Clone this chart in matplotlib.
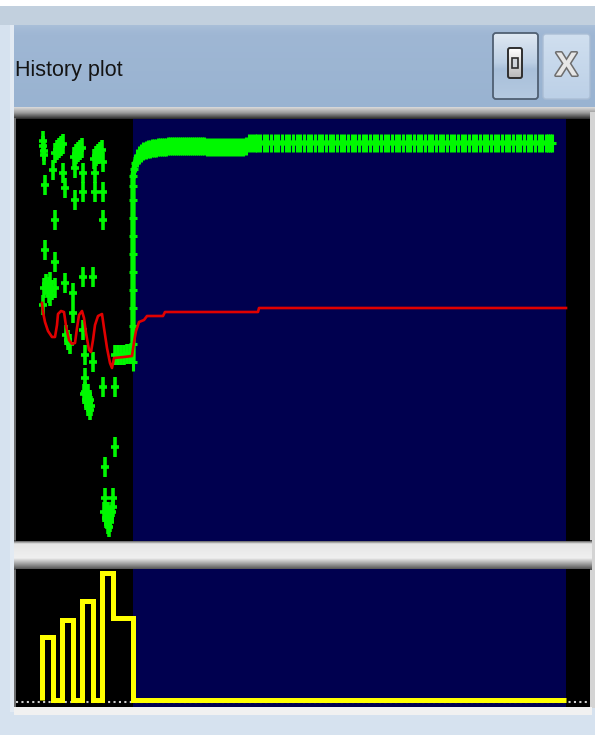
import matplotlib
matplotlib.use("Agg")
import matplotlib.pyplot as plt
import matplotlib.colors as mcolors
import matplotlib.patheffects as pe
import numpy as np
from matplotlib.path import Path
from matplotlib.patches import Rectangle, FancyBboxPatch

# ---------------- data (axis units = screen units of the plot) ----------
title_text = "History plot"
close_text = "X"

# start of the converged run (black -> blue background) and end of the run
phase_split = 132.5
phase_end = 566

# scattered exploration evaluations (green +)
explore_x = [43, 43, 44, 44, 55, 57, 59, 61, 63, 74, 76, 78, 80, 82, 94, 96, 98, 100, 102,
             53, 63, 75, 83, 95, 103, 45, 65, 75, 83, 95, 103, 55, 103, 45, 55, 65, 73, 83, 93,
             46, 49, 52, 49, 44, 55, 50, 50, 43, 73, 83, 66, 68, 70, 85, 93, 85, 103, 115,
             85, 87, 89, 91, 84, 88, 86, 90, 88, 90,
             115, 105, 105, 113, 113,
             106, 108, 110, 109, 104, 108, 112, 106, 110, 108,
             115, 118, 121, 124, 127, 130]
explore_y = [141, 146, 151, 155, 153, 150, 148, 146, 144, 157, 154, 152, 150, 148, 159, 156, 154, 152, 150,
             170, 173, 168, 173, 173, 162, 185, 188, 200, 192, 192, 192, 220, 220, 250, 262, 283, 293, 277, 277,
             284, 287, 290, 293, 288, 288, 282, 296, 305, 313, 330, 335, 340, 344, 355, 362, 378, 387, 387,
             392, 397, 402, 406, 394, 394, 400, 400, 406, 410,
             447, 467, 498, 498, 507,
             512, 517, 522, 527, 512, 512, 512, 518, 518, 524,
             355, 355, 355, 355, 354, 354]

# converging run (green +)
converge_x = [133, 133, 133, 133, 133, 133, 133, 133, 133, 133, 133, 133,
              134, 135, 137, 139, 141, 143,
              146, 148, 150, 152, 154, 156, 158, 160, 162, 164, 166, 168, 170, 172, 174,
              176, 178, 180, 182, 184, 186, 188, 190, 192, 194, 196, 198, 200, 202, 204,
              207, 210, 213, 216, 219, 222, 225, 228, 231, 234, 237, 240, 243, 246,
              249, 252, 255, 257,
              260, 264, 267, 271, 275, 278, 282, 286, 289, 293, 297, 300, 304, 308, 311,
              315, 319, 322, 326, 330, 333, 337, 341, 344, 348, 352, 355, 359, 363, 366,
              370, 374, 377, 381, 385, 388, 392, 396, 399, 403, 407, 410, 414, 418, 421,
              425, 429, 432, 436, 440, 443, 447, 451, 454, 458, 462, 465, 469, 473, 476,
              480, 484, 487, 491, 495, 498, 502, 506, 509, 513, 517, 520, 524, 528, 531,
              535, 539, 542, 546, 548, 550, 552]
converge_y = [362, 344, 326, 308, 290, 272, 254, 236, 218, 200, 186, 176,
              169, 163, 158, 155, 153, 151,
              150, 149, 149, 148, 148, 148, 147, 147, 147, 147, 147, 146, 146, 146, 146,
              146, 146, 146, 146, 146, 146, 146, 146, 146, 146, 146, 146, 146, 146, 146,
              147, 147, 147, 147, 147, 147, 147, 147, 147, 147, 147, 147, 147, 146,
              143, 143, 143, 143,
              143, 143, 143, 143, 143, 143, 143, 143, 143, 143, 143, 143, 143, 143, 143,
              143, 143, 143, 143, 143, 143, 143, 143, 143, 143, 143, 143, 143, 143, 143,
              143, 143, 143, 143, 143, 143, 143, 143, 143, 143, 143, 143, 143, 143, 143,
              143, 143, 143, 143, 143, 143, 143, 143, 143, 143, 143, 143, 143, 143, 143,
              143, 143, 143, 143, 143, 143, 143, 143, 143, 143, 143, 143, 143, 143, 143,
              143, 143, 143, 143, 143, 143, 143]

# red running-average line
red_x = [42, 43, 45, 48, 52, 55, 57, 58, 61, 64, 66, 69, 72, 75, 77, 79, 82, 84, 86, 89, 91,
         93, 95, 98, 102, 104, 107, 110, 112, 114, 124, 132, 134, 136, 139, 144, 147, 163, 165,
         258, 259, 566]
red_y = [303, 312, 322, 331, 337, 337, 325, 314, 311, 312, 326, 340, 344, 343, 328, 315, 311, 318, 333, 350, 352,
         340, 325, 316, 314, 328, 348, 363, 368, 358, 357, 356, 342, 331, 322, 320, 316, 316, 312,
         312, 308, 308]

# yellow step trace (lower panel)
step_edges = [42, 53, 62, 73, 82, 93, 102, 113, 133, 566]
step_levels = [637, 700, 620, 700, 601, 700, 573, 618, 700]
baseline_level = 700
dotted_level = 702

# ---------------- styling ----------------
W, H = 595, 735
BLUE = "#00004f"
GREEN = "#00f800"
RED = "#e00000"
YELLOW = "#ffff00"
UI_FONT = ["Liberation Sans", "DejaVu Sans"]

fig = plt.figure(figsize=(W / 100, H / 100), dpi=100)
fig.patch.set_facecolor("#d6e2ef")


def px_axes(l, t, r, b):
    return fig.add_axes([l / W, 1 - b / H, (r - l) / W, (b - t) / H])


chrome = px_axes(0, 0, W, H)
chrome.set_xlim(0, W)
chrome.set_ylim(H, 0)
chrome.axis("off")


def rect(x0, y0, x1, y1, color, z=1):
    chrome.add_patch(Rectangle((x0, y0), x1 - x0, y1 - y0, facecolor=color,
                               edgecolor="none", zorder=z))


def vgrad(x0, y0, x1, y1, stops, z=2, clip=None):
    n = 64
    pos = np.linspace(0, 1, n)
    rgb = np.array([mcolors.to_rgb(c) for _, c in stops])
    p = [s for s, _ in stops]
    arr = np.stack([np.interp(pos, p, rgb[:, k]) for k in range(3)], axis=-1)[:, None, :]
    im = chrome.imshow(arr, extent=[x0, x1, y1, y0], aspect="auto", origin="upper",
                       interpolation="bilinear", zorder=z)
    if clip is not None:
        im.set_clip_path(clip)
    return im


# window chrome
rect(0, 0, W, 6, "white")
rect(0, 6, W, 25, "#c2d0de")
rect(10, 25, 14, 712, "#e2eaf3")
vgrad(14, 25, W, 108, [(0, "#a8bed8"), (0.1, "#9fb7d4"), (1, "#99b3d1")])
vgrad(14, 107, W, 120, [(0, "#dcdcdc"), (0.45, "#9a9a9a"), (1, "#151515")], z=3)
rect(14, 118, 16, 708, "#6e6e6e", z=3)
rect(590, 112, W, 708, "#d4d4d4", z=3)
vgrad(14, 540, 592, 570, [(0, "#3a3a3a"), (0.12, "#e6e6e6"), (0.6, "#f0f0f0"), (1, "#4a4a4a")], z=3)
rect(14, 707, 592, 715, "#f1f1f1", z=3)

chrome.text(15, 76, title_text, fontsize=15.5, family=UI_FONT, color="#141414",
            va="baseline", ha="left", zorder=5)

# restore button
b1 = FancyBboxPatch((493, 33), 45, 66, boxstyle="round,pad=0,rounding_size=3",
                    facecolor="none", edgecolor="#4f5f72", lw=1.3, zorder=6)
chrome.add_patch(b1)
vgrad(493, 33, 538, 99, [(0, "#dfe8f2"), (0.45, "#bccfe4"), (0.55, "#a9c0da"), (1, "#b4c9e0")],
      z=5, clip=b1)
icon = FancyBboxPatch((508, 48), 14, 30, boxstyle="round,pad=0,rounding_size=2",
                      facecolor="none", edgecolor="#2e2e2e", lw=1.4, zorder=8)
chrome.add_patch(icon)
vgrad(508, 48, 522, 78, [(0, "#ffffff"), (1, "#b8b8b8")], z=7, clip=icon)
chrome.add_patch(Rectangle((512, 58), 6, 10, facecolor="#cfd4da", edgecolor="#2e2e2e",
                           lw=1.2, zorder=9))

# close button
b2 = FancyBboxPatch((543, 34), 47, 65, boxstyle="round,pad=0,rounding_size=3",
                    facecolor="none", edgecolor="#aabdd4", lw=1.0, zorder=6)
chrome.add_patch(b2)
vgrad(543, 34, 590, 99, [(0, "#d0dfef"), (1, "#bcd0e7")], z=5, clip=b2)
chrome.text(566.5, 67, close_text, fontsize=24, family=UI_FONT, color="#e6e6e6",
            ha="center", va="center", zorder=9, fontweight="bold",
            path_effects=[pe.withStroke(linewidth=2.2, foreground="#6d6d6d")])

chrome.set_xlim(0, W)
chrome.set_ylim(H, 0)

# marker: tall thin plus
plus = Path([(0, -1), (0, 1), (-0.45, 0), (0.45, 0)],
            [Path.MOVETO, Path.LINETO, Path.MOVETO, Path.LINETO])


def plot_panel(t, b):
    a = px_axes(16, t, 590, b)
    a.set_xlim(16, 590)
    a.set_ylim(b, t)
    a.set_facecolor("black")
    a.axvspan(phase_split, phase_end, color=BLUE, lw=0, zorder=0)
    a.set_xticks([])
    a.set_yticks([])
    for s in a.spines.values():
        s.set_visible(False)
    return a


# upper panel
ax = plot_panel(119, 541)
ax.plot(converge_x, converge_y, color=GREEN, lw=3.8, solid_capstyle="butt", zorder=3)
ax.plot(converge_x, converge_y, ls="none", marker=plus, ms=13.5, mew=2.2, color=GREEN, zorder=3)
ax.plot(explore_x, explore_y, ls="none", marker=plus, ms=14, mew=2.6, color=GREEN, zorder=3)
ax.plot(red_x, red_y, color=RED, lw=1.9, zorder=4)

# lower panel
bx = plot_panel(569, 707)
bx.axhline(dotted_level, color="#d0d0d0", lw=1.5, ls=(0, (1, 1.6)), zorder=2)
bx.stairs(step_levels, step_edges, baseline=baseline_level, color=YELLOW, lw=3.6, zorder=3)

fig.savefig("out.png", dpi=100)
